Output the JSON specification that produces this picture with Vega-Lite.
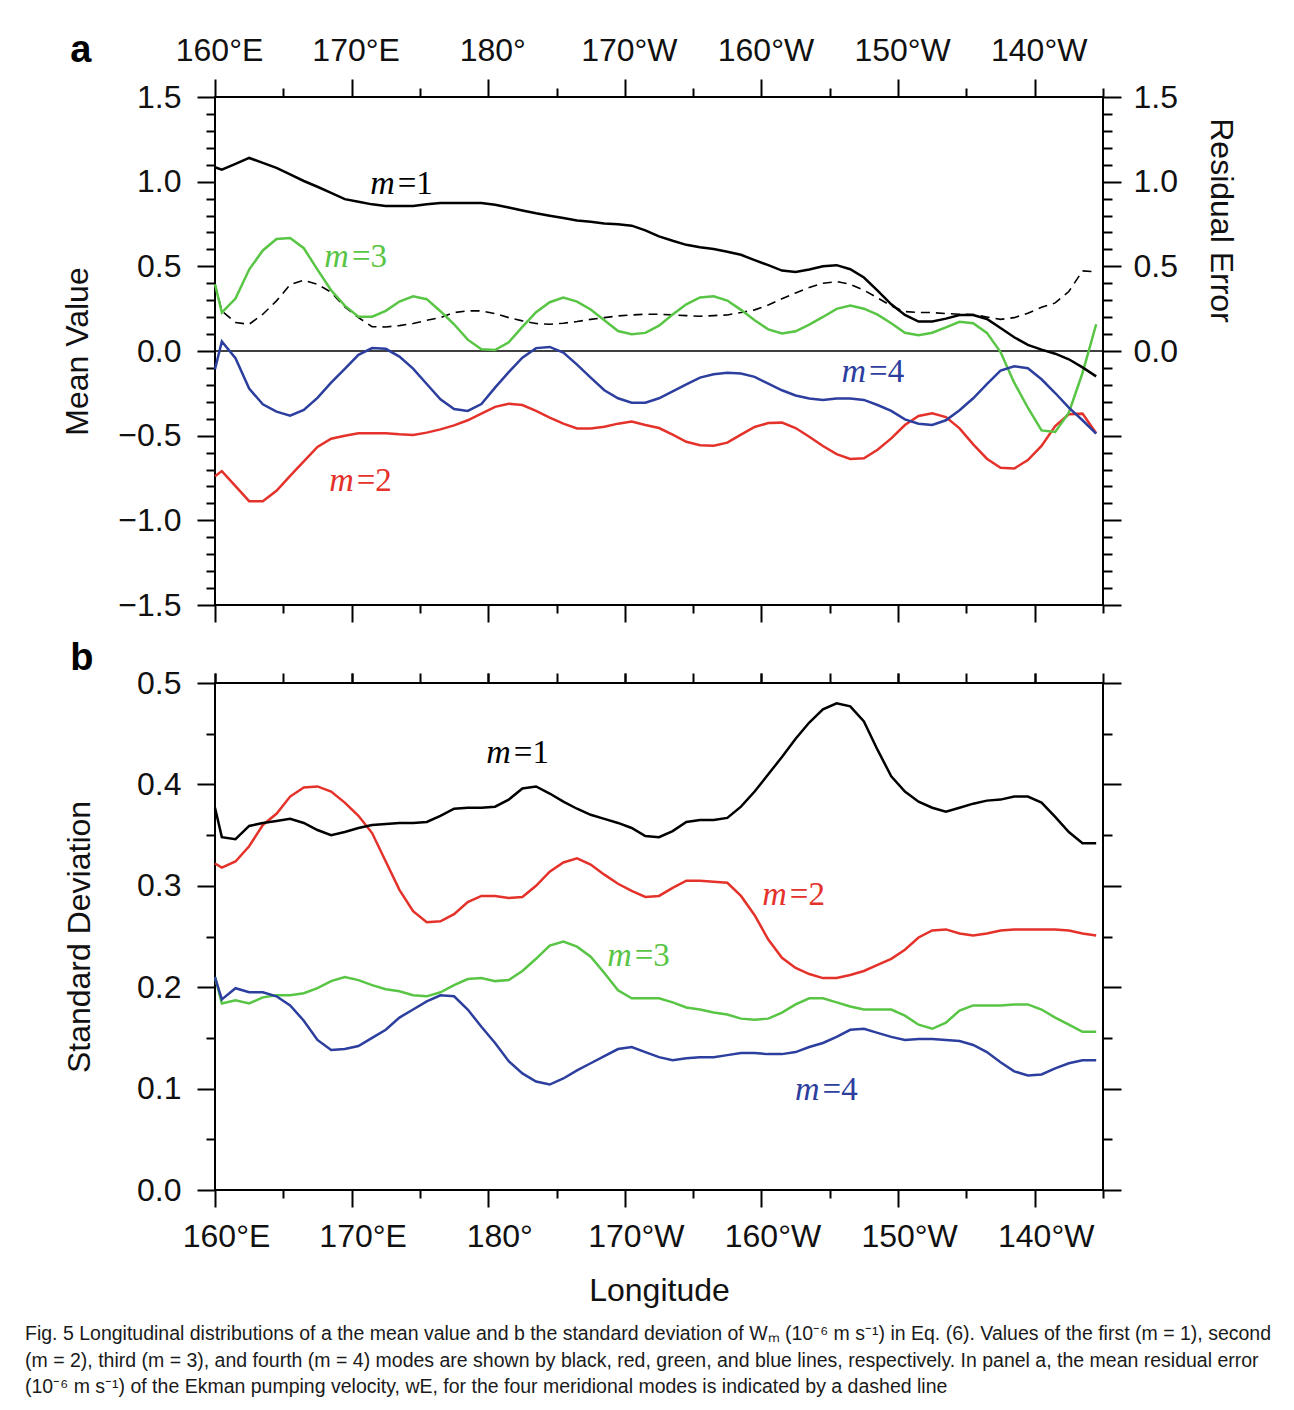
{
  "$schema": "https://vega.github.io/schema/vega-lite/v6.json",
  "background": "white",
  "padding": {"left": 25, "top": 30, "right": 10, "bottom": 5},
  "config": {
    "view": {"stroke": "#000", "strokeWidth": 2},
    "axis": {
      "grid": false, "domain": false, "tickColor": "#000", "tickWidth": 2,
      "labelFlush": false, "labelOverlap": false,
      "labelFont": "Liberation Sans", "labelFontSize": 32, "labelColor": "#111",
      "titleFont": "Liberation Sans", "titleFontSize": 32, "titleFontWeight": "normal", "titleColor": "#111"
    },
    "line": {"strokeWidth": 2.5}
  },
  "datasets": {
    "mean": [
      {"lon":160,"m1":1.085,"m2":-0.739,"m3":0.394,"m4":-0.108,"r":0.394},
      {"lon":160.5,"m1":1.071,"m2":-0.709,"m3":0.227,"m4":0.056,"r":0.237},
      {"lon":161.5,"m1":1.105,"m2":-0.798,"m3":0.310,"m4":-0.043,"r":0.168},
      {"lon":162.5,"m1":1.140,"m2":-0.887,"m3":0.481,"m4":-0.222,"r":0.158},
      {"lon":163.5,"m1":1.111,"m2":-0.887,"m3":0.594,"m4":-0.315,"r":0.217},
      {"lon":164.5,"m1":1.081,"m2":-0.826,"m3":0.661,"m4":-0.358,"r":0.296},
      {"lon":165.5,"m1":1.043,"m2":-0.737,"m3":0.667,"m4":-0.382,"r":0.392},
      {"lon":166.5,"m1":1.004,"m2":-0.652,"m3":0.607,"m4":-0.348,"r":0.418},
      {"lon":167.5,"m1":0.970,"m2":-0.567,"m3":0.481,"m4":-0.277,"r":0.394},
      {"lon":168.5,"m1":0.934,"m2":-0.518,"m3":0.359,"m4":-0.187,"r":0.347},
      {"lon":169.5,"m1":0.897,"m2":-0.500,"m3":0.268,"m4":-0.106,"r":0.260},
      {"lon":170.5,"m1":0.882,"m2":-0.486,"m3":0.203,"m4":-0.023,"r":0.197},
      {"lon":171.5,"m1":0.866,"m2":-0.486,"m3":0.203,"m4":0.017,"r":0.144},
      {"lon":172.5,"m1":0.856,"m2":-0.486,"m3":0.237,"m4":0.013,"r":0.142},
      {"lon":173.5,"m1":0.856,"m2":-0.492,"m3":0.292,"m4":-0.033,"r":0.150},
      {"lon":174.5,"m1":0.856,"m2":-0.496,"m3":0.323,"m4":-0.104,"r":0.162},
      {"lon":175.5,"m1":0.866,"m2":-0.482,"m3":0.306,"m4":-0.195,"r":0.181},
      {"lon":176.5,"m1":0.874,"m2":-0.463,"m3":0.235,"m4":-0.285,"r":0.197},
      {"lon":177.5,"m1":0.874,"m2":-0.439,"m3":0.158,"m4":-0.343,"r":0.227},
      {"lon":178.5,"m1":0.874,"m2":-0.409,"m3":0.067,"m4":-0.354,"r":0.237},
      {"lon":179.5,"m1":0.874,"m2":-0.370,"m3":0.010,"m4":-0.313,"r":0.237},
      {"lon":180.5,"m1":0.864,"m2":-0.330,"m3":0.006,"m4":-0.216,"r":0.221},
      {"lon":181.5,"m1":0.848,"m2":-0.311,"m3":0.051,"m4":-0.125,"r":0.197},
      {"lon":182.5,"m1":0.830,"m2":-0.319,"m3":0.142,"m4":-0.039,"r":0.178},
      {"lon":183.5,"m1":0.813,"m2":-0.354,"m3":0.229,"m4":0.017,"r":0.162},
      {"lon":184.5,"m1":0.799,"m2":-0.394,"m3":0.288,"m4":0.024,"r":0.158},
      {"lon":185.5,"m1":0.785,"m2":-0.429,"m3":0.316,"m4":-0.009,"r":0.164},
      {"lon":186.5,"m1":0.771,"m2":-0.457,"m3":0.292,"m4":-0.080,"r":0.174},
      {"lon":187.5,"m1":0.763,"m2":-0.457,"m3":0.245,"m4":-0.157,"r":0.187},
      {"lon":188.5,"m1":0.753,"m2":-0.447,"m3":0.181,"m4":-0.232,"r":0.197},
      {"lon":189.5,"m1":0.748,"m2":-0.429,"m3":0.118,"m4":-0.279,"r":0.207},
      {"lon":190.5,"m1":0.740,"m2":-0.417,"m3":0.099,"m4":-0.305,"r":0.213},
      {"lon":191.5,"m1":0.712,"m2":-0.437,"m3":0.107,"m4":-0.305,"r":0.217},
      {"lon":192.5,"m1":0.677,"m2":-0.455,"m3":0.150,"m4":-0.279,"r":0.217},
      {"lon":193.5,"m1":0.651,"m2":-0.494,"m3":0.215,"m4":-0.238,"r":0.213},
      {"lon":194.5,"m1":0.627,"m2":-0.536,"m3":0.276,"m4":-0.197,"r":0.209},
      {"lon":195.5,"m1":0.613,"m2":-0.557,"m3":0.316,"m4":-0.157,"r":0.205},
      {"lon":196.5,"m1":0.602,"m2":-0.559,"m3":0.323,"m4":-0.137,"r":0.209},
      {"lon":197.5,"m1":0.586,"m2":-0.541,"m3":0.298,"m4":-0.129,"r":0.213},
      {"lon":198.5,"m1":0.568,"m2":-0.494,"m3":0.243,"m4":-0.133,"r":0.227},
      {"lon":199.5,"m1":0.537,"m2":-0.449,"m3":0.181,"m4":-0.153,"r":0.243},
      {"lon":200.5,"m1":0.507,"m2":-0.425,"m3":0.128,"m4":-0.193,"r":0.272},
      {"lon":201.5,"m1":0.475,"m2":-0.423,"m3":0.103,"m4":-0.232,"r":0.308},
      {"lon":202.5,"m1":0.467,"m2":-0.455,"m3":0.116,"m4":-0.263,"r":0.343},
      {"lon":203.5,"m1":0.481,"m2":-0.506,"m3":0.156,"m4":-0.281,"r":0.375},
      {"lon":204.5,"m1":0.501,"m2":-0.561,"m3":0.201,"m4":-0.289,"r":0.400},
      {"lon":205.5,"m1":0.507,"m2":-0.609,"m3":0.249,"m4":-0.281,"r":0.410},
      {"lon":206.5,"m1":0.483,"m2":-0.638,"m3":0.268,"m4":-0.281,"r":0.394},
      {"lon":207.5,"m1":0.434,"m2":-0.634,"m3":0.250,"m4":-0.289,"r":0.359},
      {"lon":208.5,"m1":0.357,"m2":-0.583,"m3":0.215,"m4":-0.319,"r":0.314},
      {"lon":209.5,"m1":0.276,"m2":-0.516,"m3":0.164,"m4":-0.354,"r":0.266},
      {"lon":210.5,"m1":0.213,"m2":-0.437,"m3":0.108,"m4":-0.404,"r":0.233},
      {"lon":211.5,"m1":0.174,"m2":-0.384,"m3":0.093,"m4":-0.429,"r":0.227},
      {"lon":212.5,"m1":0.174,"m2":-0.368,"m3":0.108,"m4":-0.437,"r":0.227},
      {"lon":213.5,"m1":0.191,"m2":-0.390,"m3":0.140,"m4":-0.409,"r":0.221},
      {"lon":214.5,"m1":0.213,"m2":-0.457,"m3":0.172,"m4":-0.350,"r":0.217},
      {"lon":215.5,"m1":0.213,"m2":-0.551,"m3":0.164,"m4":-0.279,"r":0.215},
      {"lon":216.5,"m1":0.189,"m2":-0.636,"m3":0.107,"m4":-0.195,"r":0.201},
      {"lon":217.5,"m1":0.136,"m2":-0.690,"m3":-0.006,"m4":-0.116,"r":0.187},
      {"lon":218.5,"m1":0.081,"m2":-0.694,"m3":-0.187,"m4":-0.090,"r":0.197},
      {"lon":219.5,"m1":0.036,"m2":-0.644,"m3":-0.335,"m4":-0.102,"r":0.223},
      {"lon":220.5,"m1":0.008,"m2":-0.561,"m3":-0.469,"m4":-0.167,"r":0.258},
      {"lon":221.5,"m1":-0.016,"m2":-0.443,"m3":-0.478,"m4":-0.248,"r":0.284},
      {"lon":222.5,"m1":-0.049,"m2":-0.374,"m3":-0.364,"m4":-0.334,"r":0.351},
      {"lon":223.5,"m1":-0.097,"m2":-0.370,"m3":-0.130,"m4":-0.409,"r":0.473},
      {"lon":224.5,"m1":-0.150,"m2":-0.486,"m3":0.158,"m4":-0.488,"r":0.467}
    ],
    "sd": [
      {"lon":160,"m1":0.377,"m2":0.322,"m3":0.210,"m4":0.210},
      {"lon":160.5,"m1":0.348,"m2":0.318,"m3":0.184,"m4":0.188},
      {"lon":161.5,"m1":0.346,"m2":0.324,"m3":0.187,"m4":0.199},
      {"lon":162.5,"m1":0.359,"m2":0.339,"m3":0.184,"m4":0.195},
      {"lon":163.5,"m1":0.362,"m2":0.360,"m3":0.190,"m4":0.195},
      {"lon":164.5,"m1":0.364,"m2":0.371,"m3":0.192,"m4":0.191},
      {"lon":165.5,"m1":0.366,"m2":0.388,"m3":0.192,"m4":0.182},
      {"lon":166.5,"m1":0.362,"m2":0.397,"m3":0.194,"m4":0.167},
      {"lon":167.5,"m1":0.355,"m2":0.398,"m3":0.199,"m4":0.148},
      {"lon":168.5,"m1":0.350,"m2":0.393,"m3":0.206,"m4":0.138},
      {"lon":169.5,"m1":0.353,"m2":0.382,"m3":0.210,"m4":0.139},
      {"lon":170.5,"m1":0.357,"m2":0.369,"m3":0.207,"m4":0.142},
      {"lon":171.5,"m1":0.360,"m2":0.352,"m3":0.202,"m4":0.150},
      {"lon":172.5,"m1":0.361,"m2":0.324,"m3":0.198,"m4":0.158},
      {"lon":173.5,"m1":0.362,"m2":0.296,"m3":0.196,"m4":0.170},
      {"lon":174.5,"m1":0.362,"m2":0.275,"m3":0.192,"m4":0.178},
      {"lon":175.5,"m1":0.363,"m2":0.264,"m3":0.191,"m4":0.186},
      {"lon":176.5,"m1":0.369,"m2":0.265,"m3":0.195,"m4":0.192},
      {"lon":177.5,"m1":0.376,"m2":0.272,"m3":0.202,"m4":0.191},
      {"lon":178.5,"m1":0.377,"m2":0.284,"m3":0.208,"m4":0.178},
      {"lon":179.5,"m1":0.377,"m2":0.290,"m3":0.209,"m4":0.161},
      {"lon":180.5,"m1":0.378,"m2":0.290,"m3":0.206,"m4":0.145},
      {"lon":181.5,"m1":0.385,"m2":0.288,"m3":0.207,"m4":0.127},
      {"lon":182.5,"m1":0.396,"m2":0.289,"m3":0.216,"m4":0.115},
      {"lon":183.5,"m1":0.398,"m2":0.300,"m3":0.228,"m4":0.107},
      {"lon":184.5,"m1":0.391,"m2":0.314,"m3":0.241,"m4":0.104},
      {"lon":185.5,"m1":0.383,"m2":0.323,"m3":0.245,"m4":0.110},
      {"lon":186.5,"m1":0.376,"m2":0.327,"m3":0.240,"m4":0.118},
      {"lon":187.5,"m1":0.370,"m2":0.321,"m3":0.230,"m4":0.125},
      {"lon":188.5,"m1":0.366,"m2":0.311,"m3":0.214,"m4":0.132},
      {"lon":189.5,"m1":0.362,"m2":0.302,"m3":0.197,"m4":0.139},
      {"lon":190.5,"m1":0.357,"m2":0.295,"m3":0.189,"m4":0.141},
      {"lon":191.5,"m1":0.349,"m2":0.289,"m3":0.189,"m4":0.136},
      {"lon":192.5,"m1":0.348,"m2":0.290,"m3":0.189,"m4":0.131},
      {"lon":193.5,"m1":0.354,"m2":0.298,"m3":0.185,"m4":0.128},
      {"lon":194.5,"m1":0.363,"m2":0.305,"m3":0.180,"m4":0.130},
      {"lon":195.5,"m1":0.365,"m2":0.305,"m3":0.178,"m4":0.131},
      {"lon":196.5,"m1":0.365,"m2":0.304,"m3":0.175,"m4":0.131},
      {"lon":197.5,"m1":0.367,"m2":0.303,"m3":0.173,"m4":0.133},
      {"lon":198.5,"m1":0.378,"m2":0.290,"m3":0.169,"m4":0.135},
      {"lon":199.5,"m1":0.393,"m2":0.271,"m3":0.168,"m4":0.135},
      {"lon":200.5,"m1":0.410,"m2":0.247,"m3":0.169,"m4":0.134},
      {"lon":201.5,"m1":0.427,"m2":0.229,"m3":0.175,"m4":0.134},
      {"lon":202.5,"m1":0.445,"m2":0.219,"m3":0.183,"m4":0.136},
      {"lon":203.5,"m1":0.461,"m2":0.213,"m3":0.189,"m4":0.141},
      {"lon":204.5,"m1":0.474,"m2":0.209,"m3":0.189,"m4":0.145},
      {"lon":205.5,"m1":0.480,"m2":0.209,"m3":0.185,"m4":0.151},
      {"lon":206.5,"m1":0.477,"m2":0.212,"m3":0.181,"m4":0.158},
      {"lon":207.5,"m1":0.462,"m2":0.216,"m3":0.178,"m4":0.159},
      {"lon":208.5,"m1":0.434,"m2":0.222,"m3":0.178,"m4":0.155},
      {"lon":209.5,"m1":0.408,"m2":0.228,"m3":0.178,"m4":0.151},
      {"lon":210.5,"m1":0.393,"m2":0.237,"m3":0.172,"m4":0.148},
      {"lon":211.5,"m1":0.383,"m2":0.249,"m3":0.163,"m4":0.149},
      {"lon":212.5,"m1":0.377,"m2":0.256,"m3":0.159,"m4":0.149},
      {"lon":213.5,"m1":0.373,"m2":0.257,"m3":0.165,"m4":0.148},
      {"lon":214.5,"m1":0.377,"m2":0.253,"m3":0.177,"m4":0.147},
      {"lon":215.5,"m1":0.381,"m2":0.251,"m3":0.182,"m4":0.143},
      {"lon":216.5,"m1":0.384,"m2":0.253,"m3":0.182,"m4":0.136},
      {"lon":217.5,"m1":0.385,"m2":0.256,"m3":0.182,"m4":0.126},
      {"lon":218.5,"m1":0.388,"m2":0.257,"m3":0.183,"m4":0.117},
      {"lon":219.5,"m1":0.388,"m2":0.257,"m3":0.183,"m4":0.113},
      {"lon":220.5,"m1":0.382,"m2":0.257,"m3":0.178,"m4":0.114},
      {"lon":221.5,"m1":0.368,"m2":0.257,"m3":0.170,"m4":0.120},
      {"lon":222.5,"m1":0.353,"m2":0.256,"m3":0.163,"m4":0.125},
      {"lon":223.5,"m1":0.342,"m2":0.253,"m3":0.156,"m4":0.128},
      {"lon":224.5,"m1":0.342,"m2":0.251,"m3":0.156,"m4":0.128}
    ],
    "labels": [
      {"panel":"a","mode":"m=1","eq":"=1","lon":173.3,"v":0.928},
      {"panel":"a","mode":"m=2","eq":"=2","lon":170.3,"v":-0.824},
      {"panel":"a","mode":"m=3","eq":"=3","lon":169.95,"v":0.496},
      {"panel":"a","mode":"m=4","eq":"=4","lon":207.8,"v":-0.185},
      {"panel":"b","mode":"m=1","eq":"=1","lon":181.8,"v":0.421},
      {"panel":"b","mode":"m=2","eq":"=2","lon":202.0,"v":0.281},
      {"panel":"b","mode":"m=3","eq":"=3","lon":190.65,"v":0.221},
      {"panel":"b","mode":"m=4","eq":"=4","lon":204.4,"v":0.0885}
    ],
    "tags": [
      {"panel":"a","lon":149.4,"v":1.709},
      {"panel":"b","lon":149.4,"v":0.513}
    ]
  },
  "vconcat": [
    {
      "width": 888,
      "height": 508,
      "resolve": {"axis": {"x": "independent", "y": "independent"}},
      "layer": [
        {
          "data": {"values": [{"v": 0}]},
          "mark": {"type": "rule", "color": "#000", "strokeWidth": 1.4},
          "encoding": {"y": {"field": "v", "type": "quantitative", "scale": {"domain": [-1.5, 1.5], "nice": false, "zero": false}, "axis": null}}
        },
        {
          "data": {"name": "mean"},
          "mark": {"type": "line", "color": "#000", "strokeWidth": 1.6, "strokeDash": [9, 6]},
          "encoding": {
            "x": {"field": "lon", "type": "quantitative", "scale": {"domain": [160, 225], "nice": false, "zero": false}, "axis": null},
            "y": {"field": "r", "type": "quantitative", "axis": null}
          }
        },
        {
          "data": {"name": "mean"},
          "mark": {"type": "line", "color": "#e4322b"},
          "encoding": {
            "x": {"field": "lon", "type": "quantitative", "axis": {"orient": "top", "values": [165, 175, 185, 195, 205, 215, 225], "tickSize": 9, "labels": false, "title": null}},
            "y": {"field": "m2", "type": "quantitative", "axis": {"orient": "left", "values": [-1.4, -1.3, -1.2, -1.1, -0.9, -0.8, -0.7, -0.6, -0.4, -0.3, -0.2, -0.1, 0.1, 0.2, 0.3, 0.4, 0.6, 0.7, 0.8, 0.9, 1.1, 1.2, 1.3, 1.4], "tickSize": 9, "labels": false, "title": null}}
          }
        },
        {
          "data": {"name": "mean"},
          "mark": {"type": "line", "color": "#58c545"},
          "encoding": {
            "x": {"field": "lon", "type": "quantitative", "axis": {"orient": "bottom", "values": [160, 170, 180, 190, 200, 210, 220], "tickSize": 17, "labels": false, "title": null}},
            "y": {"field": "m3", "type": "quantitative", "axis": {"orient": "right", "values": [-1.5, -1, -0.5, 0, 0.5, 1, 1.5], "tickSize": 18, "labelPadding": 12, "labelExpr": "datum.value >= 0 ? format(datum.value, '.1f') : ''", "title": "Residual Error", "titleAngle": 90, "titlePadding": 26, "titleY": 123, "titleAlign": "center"}}
          }
        },
        {
          "data": {"name": "mean"},
          "mark": {"type": "line", "color": "#2c3e9e"},
          "encoding": {
            "x": {"field": "lon", "type": "quantitative", "axis": {"orient": "bottom", "values": [165, 175, 185, 195, 205, 215, 225], "tickSize": 8, "labels": false, "title": null}},
            "y": {"field": "m4", "type": "quantitative", "axis": {"orient": "right", "values": [-1.4, -1.3, -1.2, -1.1, -0.9, -0.8, -0.7, -0.6, -0.4, -0.3, -0.2, -0.1, 0.1, 0.2, 0.3, 0.4, 0.6, 0.7, 0.8, 0.9, 1.1, 1.2, 1.3, 1.4], "tickSize": 9, "labels": false, "title": null}}
          }
        },
        {
          "data": {"name": "mean"},
          "mark": {"type": "line", "color": "#000"},
          "encoding": {
            "x": {"field": "lon", "type": "quantitative", "axis": {"orient": "top", "values": [160, 170, 180, 190, 200, 210, 220], "tickSize": 18, "labelPadding": 12, "labelOffset": 4, "labelExpr": "datum.value < 180 ? datum.value + '°E' : (datum.value == 180 ? '180°' : (360 - datum.value) + '°W')", "title": null}},
            "y": {"field": "m1", "type": "quantitative", "axis": {"orient": "left", "values": [-1.5, -1, -0.5, 0, 0.5, 1, 1.5], "format": ".1f", "tickSize": 18, "labelPadding": 16, "title": "Mean Value", "titlePadding": 23}}
          }
        },
        {
          "data": {"name": "labels"},
          "transform": [{"filter": "datum.panel == 'a'"}],
          "mark": {"type": "text", "text": "m", "font": "Liberation Serif", "fontStyle": "italic", "fontSize": 34, "align": "right", "baseline": "alphabetic", "dx": -2},
          "encoding": {
            "x": {"field": "lon", "type": "quantitative", "axis": null},
            "y": {"field": "v", "type": "quantitative", "axis": null},
            "color": {"field": "mode", "type": "nominal", "scale": {"domain": ["m=1", "m=2", "m=3", "m=4"], "range": ["#000000", "#e4322b", "#58c545", "#2c3e9e"]}, "legend": null}
          }
        },
        {
          "data": {"name": "labels"},
          "transform": [{"filter": "datum.panel == 'a'"}],
          "mark": {"type": "text", "font": "Liberation Serif", "fontSize": 33, "align": "left", "baseline": "alphabetic", "dx": 1},
          "encoding": {
            "x": {"field": "lon", "type": "quantitative", "axis": null},
            "y": {"field": "v", "type": "quantitative", "axis": null},
            "text": {"field": "eq"},
            "color": {"field": "mode", "type": "nominal", "legend": null}
          }
        },
        {
          "data": {"name": "tags"},
          "transform": [{"filter": "datum.panel == 'a'"}],
          "mark": {"type": "text", "font": "Liberation Sans", "fontWeight": "bold", "fontSize": 38, "align": "left", "baseline": "alphabetic", "color": "#000"},
          "encoding": {
            "x": {"field": "lon", "type": "quantitative", "axis": null},
            "y": {"field": "v", "type": "quantitative", "axis": null},
            "text": {"field": "panel"}
          }
        }
      ]
    },
    {
      "width": 888,
      "height": 507,
      "resolve": {"axis": {"x": "independent", "y": "independent"}},
      "layer": [
        {
          "data": {"name": "sd"},
          "mark": {"type": "line", "color": "#e4322b"},
          "encoding": {
            "x": {"field": "lon", "type": "quantitative", "scale": {"domain": [160, 225], "nice": false, "zero": false}, "axis": {"orient": "top", "values": [160, 165, 170, 175, 180, 185, 190, 195, 200, 205, 210, 215, 220, 225], "tickSize": 10, "labels": false, "title": null}},
            "y": {"field": "m2", "type": "quantitative", "scale": {"domain": [0, 0.5], "nice": false}, "axis": {"orient": "left", "values": [0.05, 0.15, 0.25, 0.35, 0.45], "tickSize": 9, "labels": false, "title": null}}
          }
        },
        {
          "data": {"name": "sd"},
          "mark": {"type": "line", "color": "#58c545"},
          "encoding": {
            "x": {"field": "lon", "type": "quantitative", "axis": {"orient": "bottom", "values": [165, 175, 185, 195, 205, 215, 225], "tickSize": 8, "labels": false, "title": null}},
            "y": {"field": "m3", "type": "quantitative", "axis": {"orient": "right", "values": [0.05, 0.15, 0.25, 0.35, 0.45], "tickSize": 9, "labels": false, "title": null}}
          }
        },
        {
          "data": {"name": "sd"},
          "mark": {"type": "line", "color": "#2c3e9e"},
          "encoding": {
            "x": {"field": "lon", "type": "quantitative", "axis": {"orient": "top", "values": [160, 170, 180, 190, 200, 210, 220], "tickSize": 10, "labels": false, "title": null}},
            "y": {"field": "m4", "type": "quantitative", "axis": {"orient": "right", "values": [0, 0.1, 0.2, 0.3, 0.4, 0.5], "tickSize": 18, "labels": false, "title": null}}
          }
        },
        {
          "data": {"name": "sd"},
          "mark": {"type": "line", "color": "#000"},
          "encoding": {
            "x": {"field": "lon", "type": "quantitative", "axis": {"orient": "bottom", "values": [160, 170, 180, 190, 200, 210, 220], "tickSize": 17, "labelPadding": 14, "labelOffset": 11, "labelExpr": "datum.value < 180 ? datum.value + '°E' : (datum.value == 180 ? '180°' : (360 - datum.value) + '°W')", "title": "Longitude", "titlePadding": 23}},
            "y": {"field": "m1", "type": "quantitative", "axis": {"orient": "left", "values": [0, 0.1, 0.2, 0.3, 0.4, 0.5], "format": ".1f", "tickSize": 18, "labelPadding": 16, "title": "Standard Deviation", "titlePadding": 40}}
          }
        },
        {
          "data": {"name": "labels"},
          "transform": [{"filter": "datum.panel == 'b'"}],
          "mark": {"type": "text", "text": "m", "font": "Liberation Serif", "fontStyle": "italic", "fontSize": 34, "align": "right", "baseline": "alphabetic", "dx": -2},
          "encoding": {
            "x": {"field": "lon", "type": "quantitative", "axis": null},
            "y": {"field": "v", "type": "quantitative", "axis": null},
            "color": {"field": "mode", "type": "nominal", "scale": {"domain": ["m=1", "m=2", "m=3", "m=4"], "range": ["#000000", "#e4322b", "#58c545", "#2c3e9e"]}, "legend": null}
          }
        },
        {
          "data": {"name": "labels"},
          "transform": [{"filter": "datum.panel == 'b'"}],
          "mark": {"type": "text", "font": "Liberation Serif", "fontSize": 33, "align": "left", "baseline": "alphabetic", "dx": 1},
          "encoding": {
            "x": {"field": "lon", "type": "quantitative", "axis": null},
            "y": {"field": "v", "type": "quantitative", "axis": null},
            "text": {"field": "eq"},
            "color": {"field": "mode", "type": "nominal", "legend": null}
          }
        },
        {
          "data": {"name": "tags"},
          "transform": [{"filter": "datum.panel == 'b'"}],
          "mark": {"type": "text", "font": "Liberation Sans", "fontWeight": "bold", "fontSize": 38, "align": "left", "baseline": "alphabetic", "color": "#000"},
          "encoding": {
            "x": {"field": "lon", "type": "quantitative", "axis": null},
            "y": {"field": "v", "type": "quantitative", "axis": null},
            "text": {"field": "panel"}
          }
        }
      ]
    }
  ],
  "spacing": 78,
  "bounds": "flush",
  "title": {
    "text": [
      "Fig. 5 Longitudinal distributions of a the mean value and b the standard deviation of Wₘ (10⁻⁶ m s⁻¹) in Eq. (6). Values of the first (m = 1), second",
      "(m = 2), third (m = 3), and fourth (m = 4) modes are shown by black, red, green, and blue lines, respectively. In panel a, the mean residual error",
      "(10⁻⁶ m s⁻¹) of the Ekman pumping velocity, wE, for the four meridional modes is indicated by a dashed line"
    ],
    "orient": "bottom",
    "anchor": "start",
    "frame": "group",
    "dx": -190,
    "offset": 18,
    "font": "Liberation Sans",
    "fontSize": 19.5,
    "fontWeight": "normal",
    "lineHeight": 26.5,
    "color": "#1a1a1a"
  }
}
